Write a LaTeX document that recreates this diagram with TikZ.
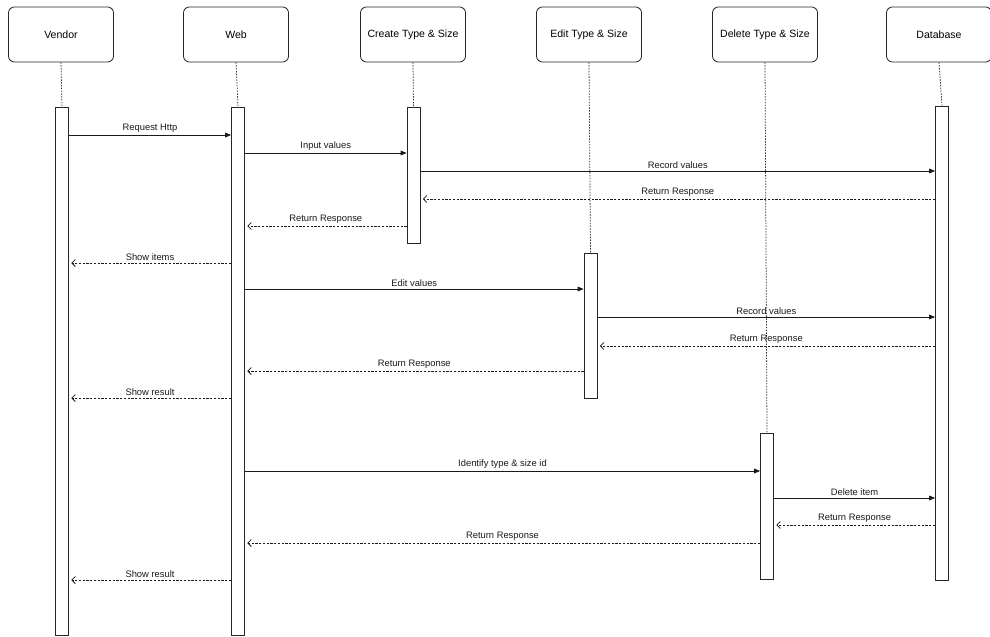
\documentclass[tikz,border=0pt]{standalone}
\usepackage{fontspec}
\setmainfont{Liberation Sans}
\usetikzlibrary{arrows.meta}

\begin{document}
\begin{tikzpicture}[x=0.03cm,y=-0.03cm,
	actor/.style={draw=black!85,line width=0.7pt,rounded corners=5pt,minimum width=3.15cm,minimum height=1.65cm,inner sep=0pt,font=\fontsize{9}{10}\selectfont},
	bar/.style={draw=black!85,line width=0.7pt,fill=white,minimum width=0.39cm,inner sep=0pt},
	life/.style={black!80,line width=0.65pt,dash pattern=on 1.3pt off 1.1pt},
	call/.style={black!90,line width=0.65pt,-{Triangle[length=5pt,width=4pt]}},
	reply/.style={black!90,line width=0.65pt,dash pattern=on 2pt off 1.2pt,-{Straight Barb[length=3pt,width=6pt]},shorten >=2pt},
	msg/.style={black!90,font=\fontsize{8}{9}\selectfont,above=1pt,inner sep=1pt}]
	
	\useasboundingbox (0,0) rectangle (990,636);
	
	% Participantes
	\node[actor] (vendor) at (61,34.5) {Vendor};
	\node[actor] (web) at (236,34.5) {Web};
	\node[actor] (create) at (413,34.5) {Create Type \& Size};
	\node[actor] (edit) at (589,34.5) {Edit Type \& Size};
	\node[actor] (delete) at (765,34.5) {Delete Type \& Size};
	\node[actor] (db) at (939,34.5) {Database};
	
	% Barras de activación
	\node[bar,minimum height=15.84cm] (vbar) at (62,371) {};
	\node[bar,minimum height=15.84cm] (wbar) at (238,371) {};
	\node[bar,minimum height=4.08cm] (cbar) at (413.5,175) {};
	\node[bar,minimum height=4.35cm] (ebar) at (590.5,325.5) {};
	\node[bar,minimum height=4.38cm] (dbar) at (767,506) {};
	\node[bar,minimum height=14.22cm] (dbbar) at (942,343) {};
	
	% Líneas de vida
	\draw[life] (vendor.south) -- (vbar.north);
	\draw[life] (web.south) -- (wbar.north);
	\draw[life] (create.south) -- (cbar.north);
	\draw[life] (edit.south) -- (ebar.north);
	\draw[life] (delete.south) -- (dbar.north);
	\draw[life] (db.south) -- (dbbar.north);
	
	% Crear
	\draw[call] (vbar.east |- 0,135) -- (wbar.west |- 0,135) node[msg,midway] {Request Http};
	\draw[call] (wbar.east |- 0,153) -- (cbar.west |- 0,153) node[msg,midway] {Input values};
	\draw[call] (cbar.east |- 0,171) -- (dbbar.west |- 0,171) node[msg,midway] {Record values};
	\draw[reply] (dbbar.west |- 0,199) -- (cbar.east |- 0,199) node[msg,midway] {Return Response};
	\draw[reply] (cbar.west |- 0,226) -- (wbar.east |- 0,226) node[msg,midway] {Return Response};
	\draw[reply] (wbar.west |- 0,263) -- (vbar.east |- 0,263) node[msg,midway] {Show items};
	
	% Editar
	\draw[call] (wbar.east |- 0,289) -- (ebar.west |- 0,289) node[msg,midway] {Edit values};
	\draw[call] (ebar.east |- 0,317) -- (dbbar.west |- 0,317) node[msg,midway] {Record values};
	\draw[reply] (dbbar.west |- 0,346) -- (ebar.east |- 0,346) node[msg,midway] {Return Response};
	\draw[reply] (ebar.west |- 0,371) -- (wbar.east |- 0,371) node[msg,midway] {Return Response};
	\draw[reply] (wbar.west |- 0,398) -- (vbar.east |- 0,398) node[msg,midway] {Show result};
	
	% Eliminar
	\draw[call] (wbar.east |- 0,471) -- (dbar.west |- 0,471) node[msg,midway] {Identify type \& size id};
	\draw[call] (dbar.east |- 0,498) -- (dbbar.west |- 0,498) node[msg,midway] {Delete item};
	\draw[reply] (dbbar.west |- 0,525) -- (dbar.east |- 0,525) node[msg,midway] {Return Response};
	\draw[reply] (dbar.west |- 0,543) -- (wbar.east |- 0,543) node[msg,midway] {Return Response};
	\draw[reply] (wbar.west |- 0,580) -- (vbar.east |- 0,580) node[msg,midway] {Show result};
	
\end{tikzpicture}
\end{document}
